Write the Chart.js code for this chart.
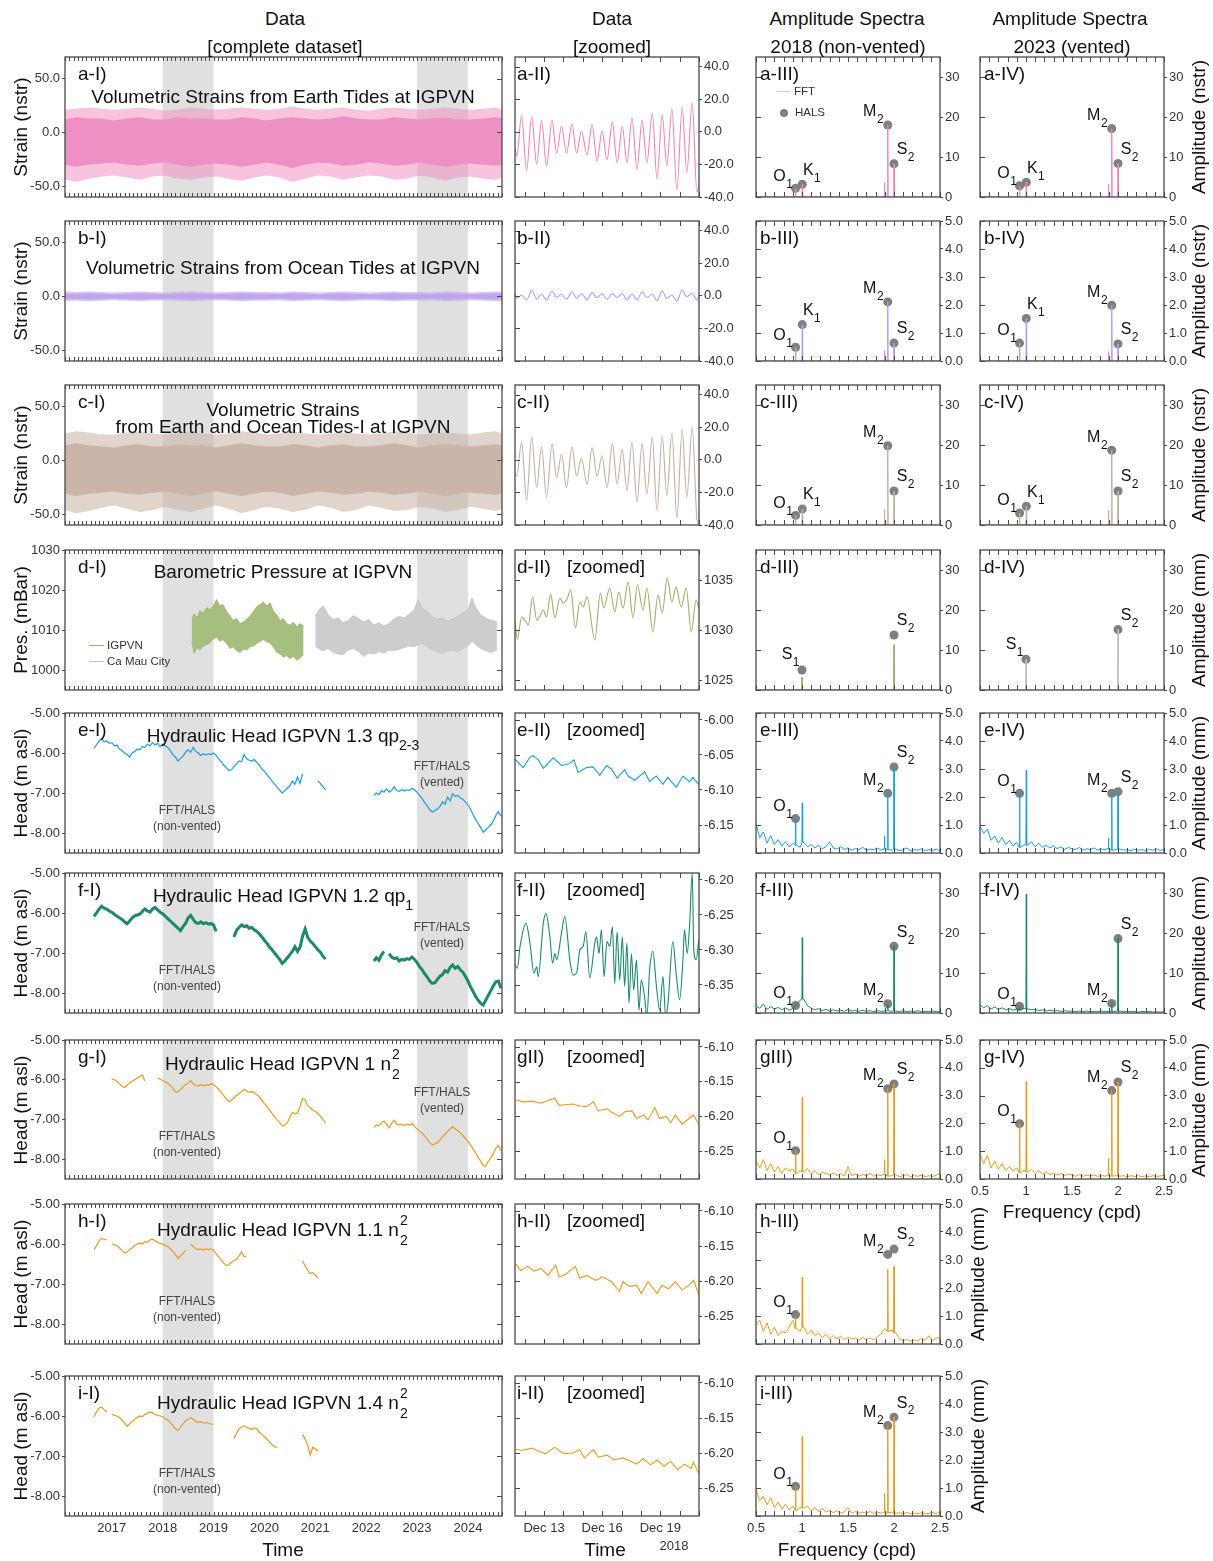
<!DOCTYPE html>
<html lang="en">
<head>
<meta charset="utf-8">
<title>Tidal strain, barometric pressure and hydraulic head at IGPVN</title>
<script src="https://cdn.jsdelivr.net/npm/chart.js@4.4.1/dist/chart.umd.min.js"></script>
<style>
  html, body { margin:0; padding:0; background:#fff; }
  #fig { position:relative; width:1213px; height:1561px; overflow:hidden; background:#fff;
         font-family:"Liberation Sans", Arial, Helvetica, sans-serif; color:#111; }
  #fig canvas { position:absolute; }
  .tx { position:absolute; white-space:nowrap; line-height:1; }
  .c { transform:translate(-50%,-50%); }
  .l { transform:translateY(-50%); }
  .v { transform:translate(-50%,-50%) rotate(-90deg); }
  .f19 { font-size:19px; }
  .note { font-size:12px; color:#444; text-align:center; line-height:16px; transform:translate(-50%,-8px); }
  .leg { font-size:11.5px; color:#333; }
  .sb { position:relative; top:8px; font-size:14px; line-height:0; }
  .ss { position:relative; display:inline-block; width:10px; height:10px; }
  .ss span { position:absolute; left:1px; font-size:14px; line-height:14px; }
</style>
</head>
<body>
<div id="fig"></div>
<script>
const FONT = '"Liberation Sans", Arial, Helvetica, sans-serif';
const INK = '#4a4a4a';

// ---------- axis ticks ----------
const yearTicks = [2017, 2018, 2019, 2020, 2021, 2022, 2023, 2024];
const dayTicks = [13, 16, 19];
const freqTicks = [0.5, 1, 1.5, 2, 2.5];
const strainTicks = [-50, 0, 50];
const pressTicks = [1000, 1010, 1020, 1030];
const headTicks = [-8, -7, -6, -5];
const strainZoomTicks = [-40, -20, 0, 20, 40];
const pressZoomTicks = [1025, 1030, 1035];
const headZoomTicksE = [-6.15, -6.10, -6.05, -6.00];
const headZoomTicksF = [-6.35, -6.30, -6.25, -6.20];
const headZoomTicksG = [-6.25, -6.20, -6.15, -6.10];
const ampTicksBig = [0, 10, 20, 30];
const ampTicksSmall = [0, 1, 2, 3, 4, 5];

// FFT/HALS analysis windows (years)
const ventWindows = [[2018, 2019], [2023, 2024]];

// ---------- column I: strain envelopes (nstr) ----------
const bandYears = [2016.08,2016.3,2016.55,2016.8,2017.05,2017.3,2017.55,2017.8,2018.05,2018.3,2018.55,2018.8,2019.05,2019.3,2019.55,2019.8,2020.05,2020.3,2020.55,2020.8,2021.05,2021.3,2021.55,2021.8,2022.05,2022.3,2022.55,2022.8,2023.05,2023.3,2023.55,2023.8,2024.05,2024.3,2024.55,2024.67];
const earthUpper = [21,22,23,22,21,22,23,22,20,21,23,22,21,22,23,22,21,22,24,22,21,22,23,21,20,22,23,22,21,22,23,22,21,22,23,21];
const earthLower = [-44,-46,-43,-41,-40,-42,-44,-41,-40,-43,-44,-42,-41,-43,-45,-42,-40,-42,-46,-43,-40,-41,-44,-42,-40,-41,-44,-43,-40,-42,-45,-42,-41,-43,-44,-42];
const earthCoreHi = [12,14,13,13,11,13,14,12,12,14,13,13,12,12,14,13,11,13,14,13,12,13,15,13,12,12,14,13,12,13,14,12,12,13,14,13];
const earthCoreLo = [-30,-32,-30,-29,-28,-30,-31,-29,-28,-30,-32,-30,-29,-30,-32,-30,-28,-30,-33,-30,-28,-29,-31,-30,-28,-29,-31,-30,-28,-30,-32,-30,-29,-30,-31,-30];
const oceanUpper = [4.5,4,4.5,4,3.5,4,4.5,4,3.5,4,4.5,4,3.5,4,4.5,4,4,3.5,4.5,4,3.5,4,4.5,4,3.5,4,4.5,4,4,3.5,4.5,4,3.5,4,4.5,4];
const oceanLower = [-4.5,-4,-4.5,-4,-3.5,-4,-4.5,-4,-3.5,-4,-4.5,-4,-3.5,-4,-4.5,-4,-4,-3.5,-4.5,-4,-3.5,-4,-4.5,-4,-3.5,-4,-4.5,-4,-4,-3.5,-4.5,-4,-3.5,-4,-4.5,-4];
const oceanCoreHi = [2.5,2.5,3,2.5,2,2.5,3,2.5,2,2.5,3,2.5,2,2.5,3,2.5,2.5,2,3,2.5,2,2.5,3,2.5,2,2.5,3,2.5,2.5,2,3,2.5,2,2.5,3,2.5];
const oceanCoreLo = [-2.5,-2.5,-3,-2.5,-2,-2.5,-3,-2.5,-2,-2.5,-3,-2.5,-2,-2.5,-3,-2.5,-2.5,-2,-3,-2.5,-2,-2.5,-3,-2.5,-2,-2.5,-3,-2.5,-2.5,-2,-3,-2.5,-2,-2.5,-3,-2.5];
const tidesUpper = [25,27,26,24,24,26,27,25,24,25,27,25,24,25,27,26,24,25,27,25,24,25,26,25,24,25,27,26,24,25,26,25,24,26,27,25];
const tidesLower = [-46,-49,-47,-44,-42,-45,-48,-46,-43,-46,-48,-45,-42,-45,-49,-46,-43,-45,-48,-46,-42,-44,-48,-46,-42,-44,-47,-46,-43,-45,-48,-46,-43,-45,-47,-45];
const tidesCoreHi = [14,16,14,13,12,14,15,13,13,15,14,14,12,14,16,14,13,13,15,14,12,14,15,13,13,14,16,14,12,14,15,14,13,14,15,14];
const tidesCoreLo = [-31,-33,-31,-30,-29,-31,-32,-30,-29,-31,-33,-31,-29,-31,-33,-31,-29,-30,-33,-31,-29,-30,-32,-31,-29,-30,-32,-31,-29,-31,-33,-31,-30,-31,-32,-31];

// ---------- column I: barometric pressure envelopes (mBar) ----------
const greenYears = [2018.57,2018.62,2018.68,2018.73,2018.80,2018.87,2018.93,2019.00,2019.06,2019.12,2019.18,2019.26,2019.32,2019.39,2019.45,2019.52,2019.59,2019.66,2019.72,2019.78,2019.85,2019.92,2019.98,2020.05,2020.11,2020.18,2020.24,2020.31,2020.37,2020.44,2020.50,2020.57,2020.64,2020.70,2020.77];
const greenHigh = [1012.5,1014.0,1013.0,1014.8,1014.2,1015.6,1015.0,1016.2,1017.6,1016.0,1016.4,1014.6,1013.5,1012.4,1012.9,1011.6,1012.0,1012.8,1013.6,1014.5,1015.8,1016.4,1017.0,1016.0,1016.8,1014.6,1013.8,1012.4,1012.9,1011.6,1011.2,1011.9,1010.8,1011.6,1011.0];
const greenLow = [1007.0,1004.2,1005.6,1005.0,1006.0,1006.4,1006.8,1007.8,1008.2,1007.2,1007.6,1006.6,1005.4,1005.8,1004.8,1004.4,1005.2,1005.0,1005.8,1006.0,1006.6,1007.2,1007.6,1007.0,1006.8,1005.6,1004.4,1004.0,1003.2,1003.6,1002.8,1003.4,1002.4,1003.0,1004.0];
const greyYears = [2021.00,2021.08,2021.16,2021.25,2021.35,2021.45,2021.55,2021.65,2021.75,2021.85,2021.95,2022.05,2022.15,2022.25,2022.35,2022.45,2022.55,2022.65,2022.75,2022.85,2022.95,2023.02,2023.10,2023.20,2023.30,2023.40,2023.50,2023.60,2023.70,2023.80,2023.90,2024.00,2024.08,2024.15,2024.25,2024.35,2024.45,2024.57];
const greyHigh = [1013.5,1015.2,1016.0,1013.8,1012.6,1013.0,1011.8,1012.4,1013.6,1012.8,1012.0,1012.6,1011.2,1011.8,1011.0,1011.6,1012.8,1013.4,1013.0,1014.0,1015.2,1017.6,1015.4,1014.6,1013.2,1012.6,1013.0,1012.2,1012.8,1013.4,1014.2,1015.0,1018.0,1015.6,1013.8,1013.0,1012.4,1012.0];
const greyLow = [1006.0,1005.2,1004.8,1005.4,1004.4,1004.0,1003.8,1005.0,1005.4,1004.6,1003.4,1004.2,1004.0,1004.6,1004.2,1005.0,1004.8,1005.2,1005.6,1006.0,1005.8,1006.4,1006.6,1005.8,1005.0,1004.6,1004.2,1004.8,1005.0,1004.6,1005.4,1006.0,1007.2,1006.4,1005.4,1004.8,1004.4,1005.0];

// ---------- column I: hydraulic heads (m asl), segments of [start year, samples every headStep] ----------
const headStep = 0.05;
const headE = [
  [2016.65, [-5.88,-5.80,-5.70,-5.64,-5.72,-5.70,-5.76,-5.74,-5.82,-5.80,-5.90,-5.94,-6.00,-6.04,-6.10,-6.00,-5.96,-5.90,-5.92,-5.84,-5.86,-5.78,-5.82,-5.74,-5.80,-5.76,-5.84,-5.78,-5.82,-5.86,-5.94,-6.04,-6.10,-6.20,-6.14,-6.08,-5.98,-5.92,-5.98,-5.86,-5.96,-6.00,-6.06,-6.02,-6.05,-6.02,-6.04,-6.00,-6.06,-6.14,-6.22,-6.30,-6.36,-6.44,-6.42,-6.34,-6.28,-6.20,-6.22,-6.04,-6.14,-6.18,-6.20,-6.16,-6.24,-6.30,-6.40,-6.46,-6.54,-6.62,-6.70,-6.78,-6.86,-6.92,-7.00,-6.94,-6.88,-6.82,-6.70,-6.78,-6.60,-6.76,-6.52]],
  [2021.05, [-6.70,-6.76,-6.84,-6.92]],
  [2022.15, [-7.06,-7.00,-7.04,-6.94,-6.98,-6.90,-6.98,-6.94,-6.84,-6.94,-6.96,-6.92,-6.95,-6.92,-6.94,-6.88,-6.92,-6.98,-7.06,-7.14,-7.24,-7.32,-7.42,-7.48,-7.44,-7.40,-7.34,-7.22,-7.28,-7.10,-7.20,-7.02,-7.08,-7.06,-7.12,-7.16,-7.22,-7.30,-7.40,-7.54,-7.66,-7.76,-7.86,-7.98,-7.92,-7.86,-7.80,-7.70,-7.56,-7.46,-7.58]]
];
const headF = [
  [2016.65, [-6.08,-6.00,-5.90,-5.83,-5.88,-5.90,-5.95,-5.98,-6.03,-6.08,-6.12,-6.16,-6.22,-6.27,-6.20,-6.12,-6.07,-6.05,-6.03,-5.96,-5.90,-5.95,-5.98,-5.90,-5.86,-5.92,-5.98,-6.02,-6.08,-6.14,-6.20,-6.26,-6.32,-6.38,-6.44,-6.34,-6.26,-6.12,-6.06,-6.16,-6.24,-6.26,-6.22,-6.27,-6.24,-6.28,-6.26,-6.30,-6.46]],
  [2019.40, [-6.60,-6.44,-6.36,-6.30,-6.34,-6.32,-6.38,-6.36,-6.42,-6.46,-6.52,-6.60,-6.68,-6.76,-6.85,-6.92,-7.00,-7.08,-7.16,-7.26,-7.20,-7.12,-7.04,-6.96,-6.84,-6.96,-6.86,-6.58,-6.40,-6.60,-6.70,-6.76,-6.84,-6.92,-6.98,-7.08,-7.15]],
  [2022.15, [-7.20,-7.12,-7.18,-7.05,-6.96]],
  [2022.45, [-7.02,-7.10,-7.14,-7.12,-7.20,-7.16,-7.18,-7.14,-7.16,-7.10,-7.16,-7.24,-7.34,-7.42,-7.52,-7.60,-7.70,-7.76,-7.74,-7.66,-7.58,-7.54,-7.44,-7.48,-7.36,-7.30,-7.38,-7.34,-7.42,-7.48,-7.58,-7.70,-7.84,-7.96,-8.08,-8.18,-8.26,-8.30,-8.18,-8.06,-7.94,-7.82,-7.72,-7.70,-7.88]]
];
const headG = [
  [2017.00, [-5.98,-6.00,-6.04,-6.10,-6.16,-6.20,-6.14,-6.08,-6.04,-6.00,-5.96,-5.92,-5.88,-6.03]],
  [2017.90, [-5.95,-5.99,-6.02,-6.05,-6.09,-6.15,-6.22,-6.31,-6.30,-6.25,-6.18,-6.12,-6.08,-6.02,-6.10,-6.14,-6.16,-6.12,-6.15,-6.13,-6.14,-6.10,-6.12,-6.18,-6.24,-6.32,-6.40,-6.48,-6.55,-6.52,-6.46,-6.40,-6.36,-6.30,-6.24,-6.28,-6.32,-6.30,-6.33,-6.38,-6.43,-6.52,-6.60,-6.68,-6.76,-6.85,-6.93,-7.01,-7.08,-7.16,-7.14,-7.08,-6.96,-6.82,-6.86,-6.84,-6.68,-6.48,-6.50,-6.66,-6.70,-6.76,-6.80,-6.85,-6.92,-7.00,-7.09]],
  [2022.15, [-7.20,-7.14,-7.16,-7.08,-7.04,-7.12,-7.22,-7.10,-7.02,-7.12,-7.14,-7.12,-7.16,-7.12,-7.14,-7.10,-7.18,-7.24,-7.30,-7.34,-7.42,-7.50,-7.58,-7.64,-7.62,-7.58,-7.52,-7.44,-7.38,-7.30,-7.24,-7.18,-7.24,-7.28,-7.34,-7.40,-7.48,-7.55,-7.64,-7.74,-7.84,-7.95,-8.05,-8.16,-8.18,-8.06,-7.96,-7.86,-7.72,-7.66,-7.78]]
];
const headH = [
  [2016.65, [-6.14,-6.04,-5.92,-5.86,-5.88,-5.90]],
  [2017.00, [-6.00,-6.02,-6.04,-6.10,-6.16,-6.22,-6.20,-6.14,-6.10,-6.04,-6.00,-5.98,-6.00,-5.94,-5.96,-5.90,-5.88,-5.92,-5.96,-5.98,-6.00,-6.04,-6.06,-6.12,-6.18,-6.26,-6.36,-6.30,-6.24,-6.16]],
  [2018.55, [-6.00,-6.06,-6.12,-6.14,-6.12,-6.15,-6.12,-6.14,-6.12,-6.16,-6.24,-6.32,-6.40,-6.48,-6.54,-6.52,-6.46,-6.42,-6.38,-6.30,-6.20,-6.32,-6.30]],
  [2020.75, [-6.42,-6.55,-6.66,-6.74,-6.72,-6.78,-6.84]]
];
const headI = [
  [2016.65, [-6.02,-5.90,-5.80,-5.78,-5.84,-5.90]],
  [2017.00, [-5.96,-5.98,-6.00,-6.04,-6.10,-6.18,-6.26,-6.20,-6.14,-6.08,-6.04,-6.00,-6.02,-5.96,-5.94,-5.90,-5.92,-5.96,-5.98,-6.00,-6.02,-6.06,-6.10,-6.16,-6.24,-6.32,-6.36,-6.28,-6.20,-6.12,-6.08,-6.04,-6.08,-6.14,-6.16,-6.14,-6.18,-6.16,-6.18,-6.20,-6.21]],
  [2019.40, [-6.56,-6.44,-6.32,-6.28,-6.24,-6.28,-6.30,-6.34,-6.30,-6.32,-6.40,-6.46,-6.52,-6.58,-6.64,-6.72,-6.76,-6.80]],
  [2020.75, [-6.46,-6.58,-6.72,-6.98,-6.78,-6.82,-6.88]]
];

// ---------- column II: ten days in December 2018 (day of month) ----------
const tideDays = [11.50,11.59,11.84,12.10,12.36,12.62,12.87,13.13,13.41,13.65,13.90,14.16,14.44,14.68,14.93,15.22,15.48,15.74,15.99,16.25,16.53,16.77,17.04,17.28,17.54,17.80,18.06,18.31,18.59,18.83,19.10,19.34,19.60,19.86,20.13,20.37,20.65,20.89,21.00];
const earthZoom = [-10,-15,10,-24,9.6,-20,6.9,-21,6.9,-13,3.3,-13,5,-13,0.5,-14,4.5,-18,0.6,-17,6,-19,3.3,-19,8.6,-23,7.1,-19,11.6,-29,10.6,-21,14.3,-36,15.3,-25,18,-37,-33];
const oceanZoom = [1.5,-1.5,0.5,-2.5,3.5,-2,1,-2.5,3,-1,1,-2,2.5,-1.5,1.5,-2.5,2,-1,1.5,-2,1.5,-1,1.5,-2.5,1,-2.5,2.5,-1,1,-3,3,-1.5,0.5,-3,3.5,-0.5,1.5,-2.5,0];
const tidesZoom = [-8,-10,11,-25,14,-17,8,-23,10,-11,3.5,-17,8,-10,1,-15,7.5,-10,2.5,-17,10,-15,6.5,-19,11,-26,10,-21,14,-31,15,-22,16.5,-36,19,-23,20,-36,-40];
const pressDays = [11.50,11.62,11.84,12.01,12.19,12.41,12.62,12.82,12.96,13.13,13.34,13.56,13.82,13.99,14.16,14.38,14.62,14.85,15.02,15.22,15.62,15.91,16.08,16.39,16.65,16.86,17.08,17.34,17.59,17.82,18.11,18.31,18.62,18.88,19.10,19.36,19.60,19.82,20.08,20.34,20.60,20.85,20.99];
const pressZoom = [1030.8,1029.1,1031.3,1031.0,1030.5,1033.3,1031.0,1031.5,1032.0,1031.3,1033.6,1031.2,1033.2,1032.7,1033.0,1034.0,1030.2,1032.8,1032.3,1033.3,1029.0,1033.7,1032.2,1034.2,1031.8,1033.8,1032.2,1034.8,1031.2,1034.5,1032.0,1034.2,1029.8,1033.5,1031.7,1035.2,1032.8,1034.3,1032.3,1034.2,1029.8,1033.0,1032.2];
const headEDays = [11.50,11.93,12.27,12.44,12.70,12.96,13.47,13.90,14.25,14.54,14.76,15.19,15.53,15.88,16.22,16.48,16.77,17.16,17.34,17.68,18.19,18.45,18.79,19.14,19.39,19.82,20.17,20.51,20.68,20.99];
const headEZoom = [-6.056,-6.068,-6.053,-6.051,-6.057,-6.069,-6.054,-6.065,-6.063,-6.057,-6.075,-6.068,-6.067,-6.079,-6.065,-6.070,-6.083,-6.071,-6.080,-6.086,-6.074,-6.088,-6.080,-6.092,-6.082,-6.096,-6.080,-6.088,-6.082,-6.092];
const headFDays = [11.50,11.62,11.76,12.07,12.27,12.48,12.62,12.70,12.96,13.10,13.30,13.44,13.56,13.65,13.90,14.07,14.33,14.50,14.68,14.85,15.02,15.16,15.36,15.62,15.71,15.84,15.96,16.10,16.25,16.39,16.53,16.65,16.77,16.91,17.04,17.16,17.28,17.39,17.51,17.63,17.77,17.90,18.02,18.19,18.31,18.45,18.62,18.79,18.97,19.14,19.28,19.40,19.65,19.82,20.00,20.17,20.25,20.39,20.51,20.65,20.73,20.85,20.99];
const headFZoom = [-6.321,-6.326,-6.295,-6.262,-6.290,-6.333,-6.324,-6.338,-6.262,-6.248,-6.281,-6.319,-6.305,-6.314,-6.276,-6.252,-6.314,-6.336,-6.333,-6.300,-6.295,-6.274,-6.340,-6.290,-6.281,-6.305,-6.271,-6.338,-6.288,-6.295,-6.267,-6.348,-6.274,-6.343,-6.281,-6.352,-6.290,-6.376,-6.305,-6.357,-6.314,-6.386,-6.343,-6.367,-6.395,-6.329,-6.302,-6.348,-6.386,-6.338,-6.395,-6.376,-6.288,-6.333,-6.371,-6.314,-6.271,-6.305,-6.267,-6.190,-6.300,-6.314,-6.286];
const headGDays = [11.55,11.90,12.37,12.84,13.31,13.55,13.78,14.49,14.84,15.20,15.55,15.79,16.26,16.49,16.89,17.19,17.54,17.78,18.13,18.37,18.72,18.96,19.31,19.54,19.78,20.13,20.48,20.72,21.00];
const headGZoom = [-6.176,-6.179,-6.178,-6.181,-6.176,-6.174,-6.184,-6.182,-6.185,-6.186,-6.179,-6.192,-6.189,-6.194,-6.200,-6.193,-6.192,-6.203,-6.198,-6.205,-6.187,-6.203,-6.200,-6.209,-6.198,-6.211,-6.203,-6.198,-6.212];
const headHDays = [11.55,11.79,12.14,12.49,12.84,13.20,13.60,13.78,14.14,14.61,14.84,15.20,15.67,16.02,16.49,16.89,17.08,17.43,17.78,18.02,18.37,18.84,19.08,19.43,19.78,20.13,20.48,20.72,21.00];
const headHZoom = [-6.176,-6.185,-6.179,-6.186,-6.182,-6.192,-6.177,-6.194,-6.190,-6.179,-6.196,-6.192,-6.199,-6.194,-6.201,-6.215,-6.201,-6.208,-6.206,-6.218,-6.201,-6.218,-6.206,-6.211,-6.201,-6.213,-6.206,-6.199,-6.220];
const headIDays = [11.55,11.90,12.37,12.84,13.08,13.55,14.02,14.49,14.84,15.08,15.55,15.79,16.26,16.61,17.08,17.55,17.78,18.13,18.49,18.84,19.20,19.54,19.90,20.25,20.60,20.72,21.00];
const headIZoom = [-6.195,-6.196,-6.193,-6.199,-6.201,-6.192,-6.201,-6.200,-6.195,-6.207,-6.195,-6.206,-6.203,-6.210,-6.207,-6.213,-6.216,-6.208,-6.217,-6.210,-6.219,-6.212,-6.224,-6.216,-6.222,-6.213,-6.230];

// ---------- columns III/IV: amplitude spectra ----------
const FREQ = {O1: 0.930, K1: 1.003, N2: 1.896, M2: 1.932, S1: 1.000, S2: 2.000};
const specStep = 0.04;
const specFreq = Array.from({length: 51}, (_, i) => +(0.5 + i * specStep).toFixed(2));
const noiseE3 = [1.05,0.55,0.75,0.35,0.62,0.30,0.48,0.25,0.40,0.22,0.35,0.28,0.20,0.38,0.22,0.30,0.18,0.28,0.15,0.22,0.40,0.18,0.14,0.22,0.12,0.18,0.10,0.16,0.12,0.20,0.10,0.14,0.12,0.18,0.10,0.15,0.12,0.10,0.14,0.08,0.12,0.18,0.08,0.12,0.10,0.15,0.08,0.12,0.09,0.14,0.08];
const noiseE4 = [0.95,0.70,0.85,0.45,0.60,0.35,0.55,0.30,0.45,0.25,0.38,0.20,0.30,0.28,0.40,0.22,0.35,0.20,0.28,0.18,0.25,0.15,0.22,0.12,0.20,0.15,0.12,0.20,0.10,0.15,0.12,0.18,0.10,0.14,0.12,0.16,0.10,0.12,0.14,0.10,0.12,0.08,0.14,0.10,0.12,0.08,0.13,0.10,0.15,0.09,0.12];
const noiseF3 = [1.8,1.2,2.2,0.9,1.6,1.0,1.4,0.8,1.3,0.7,1.1,2.0,3.2,3.5,1.8,1.2,0.8,1.1,0.6,0.9,0.5,0.8,0.5,0.7,0.4,0.9,0.5,0.6,0.4,0.7,0.4,0.6,0.3,0.6,0.4,0.5,0.6,0.4,0.5,0.3,0.6,0.3,0.5,0.3,0.6,0.3,0.4,0.3,0.5,0.3,0.4];
const noiseF4 = [2.0,1.3,1.8,1.0,1.5,0.9,1.3,0.8,1.1,0.7,1.0,0.8,1.2,1.0,0.8,0.9,0.6,0.8,0.5,0.7,0.5,0.6,0.4,0.6,0.4,0.5,0.3,0.5,0.3,0.5,0.3,0.4,0.3,0.5,0.3,0.4,0.3,0.4,0.5,0.3,0.4,0.3,0.4,0.2,0.4,0.3,0.4,0.2,0.3,0.2,0.3];
const noiseG3 = [0.65,0.40,0.70,0.30,0.55,0.25,0.45,0.20,0.40,0.30,0.35,0.20,0.30,0.25,0.38,0.18,0.30,0.15,0.25,0.20,0.14,0.22,0.12,0.20,0.10,0.45,0.12,0.18,0.10,0.16,0.12,0.20,0.10,0.15,0.12,0.18,0.10,0.12,0.15,0.08,0.12,0.16,0.08,0.12,0.10,0.14,0.08,0.12,0.09,0.14,0.20];
const noiseG4 = [0.90,0.55,0.85,0.40,0.65,0.35,0.55,0.30,0.45,0.28,0.40,0.22,0.32,0.25,0.35,0.20,0.30,0.18,0.26,0.15,0.22,0.14,0.20,0.12,0.18,0.14,0.10,0.16,0.10,0.14,0.10,0.15,0.09,0.13,0.10,0.14,0.10,0.12,0.10,0.12,0.08,0.12,0.09,0.12,0.08,0.11,0.08,0.12,0.09,0.11,0.13];
const noiseH3 = [0.70,0.85,0.45,0.75,0.35,0.60,0.30,0.45,0.40,0.60,0.85,0.55,0.45,0.60,0.35,0.50,0.30,0.40,0.22,0.35,0.20,0.30,0.18,0.28,0.15,0.25,0.18,0.22,0.14,0.24,0.16,0.22,0.15,0.26,0.35,0.55,0.45,0.50,0.40,0.18,0.12,0.16,0.10,0.14,0.10,0.22,0.12,0.30,0.12,0.20,0.25];
const noiseI3 = [0.95,0.55,0.70,0.40,0.65,0.30,0.50,0.25,0.42,0.22,0.35,0.20,0.30,0.28,0.35,0.18,0.30,0.15,0.28,0.14,0.20,0.12,0.18,0.10,0.15,0.30,0.10,0.16,0.10,0.14,0.10,0.16,0.09,0.14,0.10,0.12,0.10,0.14,0.10,0.12,0.08,0.12,0.09,0.10,0.08,0.12,0.08,0.10,0.12,0.09,0.14];

// FFT spike tops and HALS amplitudes per panel
const fftA3 = [['O1',2.2],['K1',3.2],['N2',3.6],['M2',18.0],['S2',8.3]];
const halsA3 = [['O1',2.2],['K1',3.2],['M2',18.0],['S2',8.3]];
const fftA4 = [['O1',2.8],['K1',3.7],['N2',3.2],['M2',17.1],['S2',8.4]];
const halsA4 = [['O1',2.8],['K1',3.7],['M2',17.1],['S2',8.4]];
const fftB3 = [['O1',0.49],['K1',1.30],['N2',0.37],['M2',2.11],['S2',0.64]];
const halsB3 = [['O1',0.49],['K1',1.30],['M2',2.11],['S2',0.64]];
const fftB4 = [['O1',0.64],['K1',1.52],['N2',0.34],['M2',1.99],['S2',0.61]];
const halsB4 = [['O1',0.64],['K1',1.52],['M2',1.99],['S2',0.61]];
const fftC3 = [['O1',2.4],['K1',4.0],['N2',3.9],['M2',19.8],['S2',8.5]];
const halsC3 = [['O1',2.4],['K1',4.0],['M2',19.8],['S2',8.5]];
const fftC4 = [['O1',3.0],['K1',4.7],['N2',3.7],['M2',18.7],['S2',8.5]];
const halsC4 = [['O1',3.0],['K1',4.7],['M2',18.7],['S2',8.5]];
const fftD3 = [['S1',3.2],['S2',11.3]];
const halsD3 = [['S1',5.0],['S2',13.75]];
const fftD4 = [['S1',7.7],['S2',15.1]];
const halsD4 = [['S1',7.7],['S2',15.1]];
const fftE3 = [['O1',1.23],['K1',1.78],['N2',0.6],['M2',2.13],['S2',3.07]];
const halsE3 = [['O1',1.23],['M2',2.13],['S2',3.07]];
const fftE4 = [['O1',2.13],['K1',2.95],['N2',0.54],['M2',2.13],['S2',2.19]];
const halsE4 = [['O1',2.13],['M2',2.13],['S2',2.19]];
const fftF3 = [['O1',1.9],['K1',18.8],['M2',2.3],['S2',16.7]];
const halsF3 = [['O1',1.9],['M2',2.3],['S2',16.7]];
const fftF4 = [['O1',1.7],['K1',29.7],['M2',2.4],['S2',18.6]];
const halsF4 = [['O1',1.7],['M2',2.4],['S2',18.6]];
const fftG3 = [['O1',1.02],['K1',2.94],['N2',0.7],['M2',3.25],['S2',3.42]];
const halsG3 = [['O1',1.02],['M2',3.25],['S2',3.42]];
const fftG4 = [['O1',1.99],['K1',3.5],['N2',0.75],['M2',3.18],['S2',3.49]];
const halsG4 = [['O1',1.99],['M2',3.18],['S2',3.49]];
const fftH3 = [['O1',0.95],['K1',2.39],['M2',2.66],['S2',2.77]];
const halsH3 = [['O1',1.05],['M2',3.2],['S2',3.39]];
const fftI3 = [['O1',1.06],['K1',2.84],['N2',0.82],['M2',3.23],['S2',3.53]];
const halsI3 = [['O1',1.06],['M2',3.23],['S2',3.53]];

// ---------- colours ----------
const PINK = '#EE85BE', LAV = '#B79CEB', TAN = '#C4AEA2', GREEN = '#98B068', GREY = '#BEBEBE';
const BLUE = '#1A9FD6', TEAL = '#1B8A6B', ORANGE = '#E69B1F';

// ---------- layout (plot-area pixel boxes) ----------
const COLS = {I: [65, 502], II: [515, 699], III: [756, 940], IV: [980, 1164]};
const ROWS = {a: [57, 197], b: [221, 361], c: [385, 525], d: [550, 690], e: [713, 853],
              f: [873, 1013], g: [1040, 1179], h: [1204, 1344], i: [1376, 1516]};
const XR = {
  I:   {min: 2016.08, max: 2024.67, minor: {from: 2016, step: 1 / 12, len: 4}},
  II:  {min: 11.5, max: 21.0, minor: {from: 11, step: 1, len: 5}},
  III: {min: 0.5, max: 2.5, minor: {from: 0.5, step: 0.1, len: 5}},
  IV:  {min: 0.5, max: 2.5, minor: {from: 0.5, step: 0.1, len: 5}}
};
const fx1 = v => v.toFixed(1), fx2 = v => v.toFixed(2), fx0 = v => String(v);
const Y = {
  strain1: {min: -60, max: 70, ticks: strainTicks, fmt: fx1},
  press1:  {min: 995, max: 1030, ticks: pressTicks, fmt: fx0},
  head1:   {min: -8.5, max: -5, ticks: headTicks, fmt: fx2},
  strain2: {min: -40, max: 46, ticks: strainZoomTicks, fmt: fx1},
  press2:  {min: 1024, max: 1038, ticks: pressZoomTicks, fmt: fx0},
  headE2:  {min: -6.19, max: -5.99, ticks: headZoomTicksE, fmt: fx2},
  headF2:  {min: -6.39, max: -6.19, ticks: headZoomTicksF, fmt: fx2},
  headG2:  {min: -6.29, max: -6.09, ticks: headZoomTicksG, fmt: fx2},
  amp35:   {min: 0, max: 35, ticks: ampTicksBig, fmt: fx0},
  amp5:    {min: 0, max: 5, ticks: ampTicksSmall, fmt: fx1}
};
const LABEL_OFFSET = {O1: [-16, -12], K1: [6, -14], M2: [-18, -13], S2: [8, -14], S1: [-15, -15]};

// ---------- plugins ----------
const framePlugin = {
  id: 'frame',
  beforeDatasetsDraw(chart, args, o) {
    if (!o.windows) return;
    const {ctx, chartArea: a, scales: {x}} = chart;
    ctx.save();
    ctx.fillStyle = '#E0E0E0';
    o.windows.forEach(([s, e]) => {
      const p0 = x.getPixelForValue(s), p1 = x.getPixelForValue(e);
      ctx.fillRect(p0, a.top, p1 - p0, a.bottom - a.top);
    });
    ctx.restore();
  },
  afterDatasetsDraw(chart, args, o) {
    const {ctx, chartArea: a, scales: {x, y}} = chart;
    ctx.save();
    ctx.strokeStyle = INK;
    ctx.lineWidth = 1;
    ctx.beginPath();
    if (o.minor) {
      const {from, step, len} = o.minor;
      const k0 = Math.ceil((x.min - from) / step - 1e-6), k1 = Math.floor((x.max - from) / step + 1e-6);
      for (let k = k0; k <= k1; k++) {
        const px = Math.round(x.getPixelForValue(from + k * step)) + 0.5;
        ctx.moveTo(px, a.bottom); ctx.lineTo(px, a.bottom - len);
        ctx.moveTo(px, a.top); ctx.lineTo(px, a.top + len);
      }
    }
    y.ticks.forEach(t => {
      const py = Math.round(y.getPixelForValue(t.value)) + 0.5;
      if (o.inLeft) { ctx.moveTo(a.left, py); ctx.lineTo(a.left + 5, py); }
      if (o.inRight) { ctx.moveTo(a.right, py); ctx.lineTo(a.right - 5, py); }
    });
    ctx.stroke();
    ctx.lineWidth = 1.3;
    ctx.strokeRect(a.left, a.top, a.right - a.left, a.bottom - a.top);
    ctx.restore();
  }
};

const constituentPlugin = {
  id: 'constituents',
  afterDatasetsDraw(chart, args, o) {
    if (!o.items) return;
    const {ctx, scales: {x, y}} = chart;
    ctx.save();
    ctx.fillStyle = '#111';
    ctx.textBaseline = 'middle';
    o.items.forEach(([c, amp]) => {
      const off = LABEL_OFFSET[c];
      const px = x.getPixelForValue(FREQ[c]) + off[0];
      const py = y.getPixelForValue(amp) + off[1];
      ctx.font = '16px ' + FONT;
      ctx.textAlign = 'center';
      ctx.fillText(c[0], px, py);
      const w = ctx.measureText(c[0]).width;
      ctx.font = '12px ' + FONT;
      ctx.textAlign = 'left';
      ctx.fillText(c[1], px + w / 2 + 0.5, py + 8);
    });
    ctx.restore();
  }
};

// ---------- dataset helpers ----------
const fig = document.getElementById('fig');
const pairs = (xs, ys) => xs.map((x, i) => ({x, y: ys[i]}));
const gridSeg = ([start, vals]) => vals.map((y, i) => ({x: +(start + i * headStep).toFixed(2), y}));
const lineDs = (data, color, width, extra) =>
  Object.assign({data, borderColor: color, borderWidth: width, pointRadius: 0, fill: false, tension: 0}, extra || {});
const bandDs = (xs, hi, lo, fillColor, edge) => [
  {data: pairs(xs, hi), fill: '+1', backgroundColor: fillColor, borderColor: edge || 'transparent', borderWidth: edge ? 0.8 : 0, pointRadius: 0},
  {data: pairs(xs, lo), fill: false, borderColor: edge || 'transparent', borderWidth: edge ? 0.8 : 0, pointRadius: 0}
];
const headDs = (segs, color, width) => segs.map(s => lineDs(gridSeg(s), color, width));
const smooth = {cubicInterpolationMode: 'monotone'};

function spectrumDs(noise, spikes, hals, color) {
  let pts = noise ? noise.map((v, i) => ({x: specFreq[i], y: v})) : [{x: 0.5, y: 0}, {x: 2.5, y: 0}];
  spikes.forEach(([c, amp]) => {
    const f = FREQ[c];
    const foot = noise ? noise[Math.round((f - 0.5) / specStep)] : 0;
    pts = pts.filter(q => Math.abs(q.x - f) > 0.006);
    pts.push({x: f - 0.004, y: foot}, {x: f, y: amp}, {x: f + 0.004, y: foot});
  });
  pts.sort((a, b) => a.x - b.x);
  return [
    lineDs(pts, color, 1),
    {data: hals.map(([c, a]) => ({x: FREQ[c], y: a})), showLine: false, pointRadius: 4.5,
     pointBackgroundColor: '#7f7f7f', pointBorderWidth: 0, borderColor: 'transparent'}
  ];
}

// ---------- panel builder ----------
function build(p) {
  const [x0, x1] = COLS[p.col], [y0, y1] = ROWS[p.row];
  const first = p.col === 'I';
  const padL = first ? 65 : 16;
  const padR = first ? 8 : (p.col === 'IV' ? 1213 - x1 : 36);
  const padT = 8, padB = p.padB || 8;
  const W = x1 - x0 + padL + padR, H = y1 - y0 + padT + padB;
  const cv = document.createElement('canvas');
  cv.width = W; cv.height = H;
  Object.assign(cv.style, {left: (x0 - padL) + 'px', top: (y0 - padT) + 'px', width: W + 'px', height: H + 'px'});
  fig.appendChild(cv);
  const xr = XR[p.col], yr = p.y;
  const showX = !!p.xLabels;
  const xScale = {type: 'linear', min: xr.min, max: xr.max, display: showX, position: 'bottom',
    grid: {display: false, drawTicks: false}, border: {display: false}};
  if (showX) Object.assign(xScale, {
    // keep the plot box fixed: edge labels may overhang it
    afterFit: s => { s.height = padB; s.paddingLeft = 0; s.paddingRight = 0; },
    afterBuildTicks: s => { s.ticks = p.xLabels.map(v => ({value: v})); },
    ticks: {callback: v => p.xFmt(v), font: {family: FONT, size: 13}, color: '#333', padding: 5, maxRotation: 0, autoSkip: false}
  });
  new Chart(cv, {
    type: 'line',
    data: {datasets: p.datasets},
    options: {
      responsive: false, animation: false, events: [], devicePixelRatio: 1,
      layout: {autoPadding: false, padding: {top: padT, bottom: showX ? 0 : padB, left: first ? 0 : padL, right: first ? padR : 0}},
      plugins: {legend: {display: false}, tooltip: {enabled: false},
        frame: {minor: xr.minor, windows: p.windows, inLeft: !first, inRight: first},
        constituents: {items: p.items}},
      scales: {
        x: xScale,
        y: {type: 'linear', min: yr.min, max: yr.max, position: first ? 'left' : 'right',
            afterFit: s => { s.width = first ? padL : padR; s.paddingTop = 0; s.paddingBottom = 0; },
            afterBuildTicks: s => { s.ticks = yr.ticks.map(v => ({value: v})); },
            ticks: {callback: v => yr.fmt(v), font: {family: FONT, size: 13}, color: '#333', padding: 2, autoSkip: false},
            grid: {drawOnChartArea: false, drawTicks: true, tickLength: 3, color: INK},
            border: {display: false}}
      }
    },
    plugins: [framePlugin, constituentPlugin]
  });
}

const oneWindow = [ventWindows[0]];
const yearFmt = v => String(v), dayFmt = v => 'Dec ' + v, freqFmt = v => String(v);

// column I — complete record
build({col: 'I', row: 'a', y: Y.strain1, windows: ventWindows, datasets: [
  ...bandDs(bandYears, earthUpper, earthLower, 'rgba(240,135,192,0.5)'),
  ...bandDs(bandYears, earthCoreHi, earthCoreLo, '#EC98C6')]});
build({col: 'I', row: 'b', y: Y.strain1, windows: ventWindows, datasets: [
  ...bandDs(bandYears, oceanUpper, oceanLower, 'rgba(190,160,236,0.6)'),
  ...bandDs(bandYears, oceanCoreHi, oceanCoreLo, '#C4ABEE')]});
build({col: 'I', row: 'c', y: Y.strain1, windows: ventWindows, datasets: [
  ...bandDs(bandYears, tidesUpper, tidesLower, 'rgba(200,176,162,0.55)'),
  ...bandDs(bandYears, tidesCoreHi, tidesCoreLo, '#CDBAAF')]});
build({col: 'I', row: 'd', y: Y.press1, windows: ventWindows, datasets: [
  ...bandDs(greenYears, greenHigh, greenLow, '#A8BE7F', GREEN),
  ...bandDs(greyYears, greyHigh, greyLow, '#CDCDCD', GREY)]});
build({col: 'I', row: 'e', y: Y.head1, windows: ventWindows, datasets: headDs(headE, BLUE, 1.2)});
build({col: 'I', row: 'f', y: Y.head1, windows: ventWindows, datasets: headDs(headF, TEAL, 3)});
build({col: 'I', row: 'g', y: Y.head1, windows: ventWindows, datasets: headDs(headG, ORANGE, 1.2)});
build({col: 'I', row: 'h', y: Y.head1, windows: oneWindow, datasets: headDs(headH, ORANGE, 1.2)});
build({col: 'I', row: 'i', y: Y.head1, windows: oneWindow, datasets: headDs(headI, ORANGE, 1.2),
  xLabels: yearTicks, xFmt: yearFmt, padB: 45});

// column II — zoomed (December 2018)
build({col: 'II', row: 'a', y: Y.strain2, datasets: [lineDs(pairs(tideDays, earthZoom), PINK, 1.1, smooth)]});
build({col: 'II', row: 'b', y: Y.strain2, datasets: [lineDs(pairs(tideDays, oceanZoom), LAV, 1.1, smooth)]});
build({col: 'II', row: 'c', y: Y.strain2, datasets: [lineDs(pairs(tideDays, tidesZoom), TAN, 1.1, smooth)]});
build({col: 'II', row: 'd', y: Y.press2, datasets: [lineDs(pairs(pressDays, pressZoom), GREEN, 1.1, smooth)]});
build({col: 'II', row: 'e', y: Y.headE2, datasets: [lineDs(pairs(headEDays, headEZoom), BLUE, 1.1)]});
build({col: 'II', row: 'f', y: Y.headF2, datasets: [lineDs(pairs(headFDays, headFZoom), TEAL, 1.1, smooth)]});
build({col: 'II', row: 'g', y: Y.headG2, datasets: [lineDs(pairs(headGDays, headGZoom), ORANGE, 1.1)]});
build({col: 'II', row: 'h', y: Y.headG2, datasets: [lineDs(pairs(headHDays, headHZoom), ORANGE, 1.1)]});
build({col: 'II', row: 'i', y: Y.headG2, datasets: [lineDs(pairs(headIDays, headIZoom), ORANGE, 1.1)],
  xLabels: dayTicks, xFmt: dayFmt, padB: 45});

// columns III and IV — amplitude spectra
const spec = (col, row, y, noise, fft, hals, color, extra) =>
  build(Object.assign({col, row, y, datasets: spectrumDs(noise, fft, hals, color), items: hals}, extra || {}));
spec('III', 'a', Y.amp35, null, fftA3, halsA3, PINK);
spec('IV', 'a', Y.amp35, null, fftA4, halsA4, PINK);
spec('III', 'b', Y.amp5, null, fftB3, halsB3, LAV);
spec('IV', 'b', Y.amp5, null, fftB4, halsB4, LAV);
spec('III', 'c', Y.amp35, null, fftC3, halsC3, TAN);
spec('IV', 'c', Y.amp35, null, fftC4, halsC4, TAN);
spec('III', 'd', Y.amp35, null, fftD3, halsD3, GREEN);
spec('IV', 'd', Y.amp35, null, fftD4, halsD4, GREY);
spec('III', 'e', Y.amp5, noiseE3, fftE3, halsE3, BLUE);
spec('IV', 'e', Y.amp5, noiseE4, fftE4, halsE4, BLUE);
spec('III', 'f', Y.amp35, noiseF3, fftF3, halsF3, TEAL);
spec('IV', 'f', Y.amp35, noiseF4, fftF4, halsF4, TEAL);
spec('III', 'g', Y.amp5, noiseG3, fftG3, halsG3, ORANGE);
spec('IV', 'g', Y.amp5, noiseG4, fftG4, halsG4, ORANGE, {xLabels: freqTicks, xFmt: freqFmt, padB: 46});
spec('III', 'h', Y.amp5, noiseH3, fftH3, halsH3, ORANGE);
spec('III', 'i', Y.amp5, noiseI3, fftI3, halsI3, ORANGE, {xLabels: freqTicks, xFmt: freqFmt, padB: 45});

// ---------- text ----------
function put(html, x, y, cls, style) {
  const d = document.createElement('div');
  d.className = 'tx ' + cls;
  d.innerHTML = html;
  d.style.left = x + 'px';
  d.style.top = y + 'px';
  if (style) Object.assign(d.style, style);
  fig.appendChild(d);
  return d;
}
// column headings
[['Data', 285, 18], ['[complete dataset]', 285, 46], ['Data', 612, 18], ['[zoomed]', 612, 46],
 ['Amplitude Spectra', 847, 18], ['2018 (non-vented)', 848, 46],
 ['Amplitude Spectra', 1070, 18], ['2023 (vented)', 1072, 46]]
  .forEach(([t, x, y]) => put(t, x, y, 'c f19'));

// panel letters
const LBL_X = {I: 78, II: 517, III: 760, IV: 984};
const panelNames = {
  a: ['a-I)', 'a-II)', 'a-III)', 'a-IV)'], b: ['b-I)', 'b-II)', 'b-III)', 'b-IV)'],
  c: ['c-I)', 'c-II)', 'c-III)', 'c-IV)'], d: ['d-I)', 'd-II)', 'd-III)', 'd-IV)'],
  e: ['e-I)', 'e-II)', 'e-III)', 'e-IV)'], f: ['f-I)', 'f-II)', 'f-III)', 'f-IV)'],
  g: ['g-I)', 'gII)', 'gIII)', 'g-IV)'], h: ['h-I)', 'h-II)', 'h-III)'], i: ['i-I)', 'i-II)', 'i-III)']
};
Object.entries(panelNames).forEach(([row, names]) => {
  names.forEach((n, k) => put(n, LBL_X[['I', 'II', 'III', 'IV'][k]], ROWS[row][0] + 16, 'l f19'));
  if ('defghi'.includes(row)) put('[zoomed]', 567, ROWS[row][0] + 16, 'l f19');
});

// titles inside column I
const ss = '<span class="ss"><span style="top:-13px">2</span><span style="top:7px">2</span></span>';
[['Volumetric Strains from Earth Tides at IGPVN', 96],
 ['Volumetric Strains from Ocean Tides at IGPVN', 267],
 ['Volumetric Strains', 409], ['from Earth and Ocean Tides-I at IGPVN', 426],
 ['Barometric Pressure at IGPVN', 571],
 ['Hydraulic Head IGPVN 1.3 qp<span class="sb">2-3</span>', 735],
 ['Hydraulic Head IGPVN 1.2 qp<span class="sb">1</span>', 895],
 ['Hydraulic Head IGPVN 1 n' + ss, 1063],
 ['Hydraulic Head IGPVN 1.1 n' + ss, 1229],
 ['Hydraulic Head IGPVN 1.4 n' + ss, 1402]]
  .forEach(([t, y]) => put(t, 283, y, 'c f19'));

// analysis-window notes
const nonV = 'FFT/HALS<br>(non-vented)', vent = 'FFT/HALS<br>(vented)';
[[nonV, 187, 810], [vent, 442, 766], [nonV, 187, 970], [vent, 442, 927],
 [nonV, 187, 1136], [vent, 442, 1092], [nonV, 187, 1301], [nonV, 187, 1473]]
  .forEach(([t, x, y]) => put(t, x, y, 'note'));

// legends
put('', 89, 645, '', {width: '15px', height: '0', borderTop: '1.2px solid ' + GREEN});
put('IGPVN', 107, 646, 'l leg');
put('', 89, 661, '', {width: '15px', height: '0', borderTop: '1.2px solid ' + GREY});
put('Ca Mau City', 107, 662, 'l leg');
put('', 776, 91, '', {width: '14px', height: '0', borderTop: '1.2px solid #E6C4C8'});
put('FFT', 794, 92, 'l leg');
put('', 780, 109, '', {width: '8px', height: '8px', borderRadius: '50%', background: '#7f7f7f'});
put('HALS', 795, 113, 'l leg');

// axis titles
[['Strain (nstr)', 'a'], ['Strain (nstr)', 'b'], ['Strain (nstr)', 'c'], ['Pres. (mBar)', 'd'],
 ['Head (m asl)', 'e'], ['Head (m asl)', 'f'], ['Head (m asl)', 'g'], ['Head (m asl)', 'h'], ['Head (m asl)', 'i']]
  .forEach(([t, r]) => put(t, 19.5, (ROWS[r][0] + ROWS[r][1]) / 2, 'v f19'));
[['Amplitude (nstr)', 'a'], ['Amplitude (nstr)', 'b'], ['Amplitude (nstr)', 'c'], ['Amplitude (mm)', 'd'],
 ['Amplitude (mm)', 'e'], ['Amplitude (mm)', 'f'], ['Amplitude (mm)', 'g']]
  .forEach(([t, r]) => put(t, 1198, (ROWS[r][0] + ROWS[r][1]) / 2, 'v f19'));
[['Amplitude (mm)', 'h'], ['Amplitude (mm)', 'i']]
  .forEach(([t, r]) => put(t, 977, (ROWS[r][0] + ROWS[r][1]) / 2, 'v f19'));
put('Time', 283, 1549, 'c f19');
put('Time', 605, 1549, 'c f19');
put('2018', 674, 1545, 'c', {fontSize: '13px', color: '#333'});
put('Frequency (cpd)', 847, 1549, 'c f19');
put('Frequency (cpd)', 1072, 1211, 'c f19');
</script>
</body>
</html>
